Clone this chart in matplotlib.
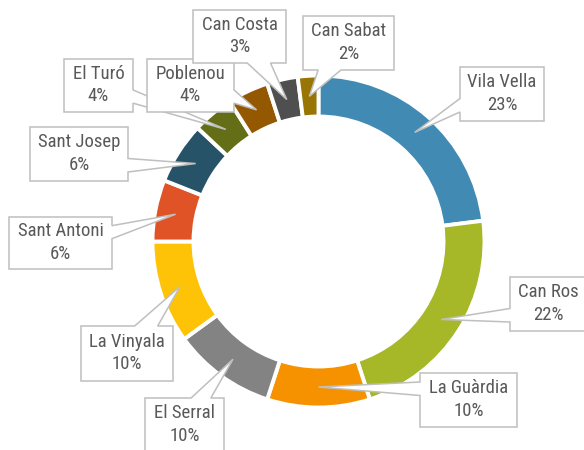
import numpy as np
import matplotlib.pyplot as plt
from matplotlib.patches import Polygon

# data
names = ['Vila Vella', 'Can Ros', 'La Guàrdia', 'El Serral', 'La Vinyala',
         'Sant Antoni', 'Sant Josep', 'El Turó', 'Poblenou', 'Can Costa', 'Can Sabat']
values = [23, 22, 10, 10, 10, 6, 6, 4, 4, 3, 2]
colors = ['#418AB3', '#A6B727', '#F69200', '#838383', '#FEC306', '#DF5327',
          '#275369', '#646E17', '#945800', '#4F4F4F', '#987504']

# label boxes, pixel coords (left, top, right, bottom)
boxes = [(460, 67, 544, 121), (510, 277, 587, 331), (420, 373, 517, 427),
         (145, 398, 224, 452), (81, 326, 173, 381), (9, 217, 112, 269),
         (30, 127, 128, 181), (64, 59, 133, 112), (147, 59, 234, 112),
         (193, 10, 286, 63), (303, 16, 394, 70)]

W, H = 584, 450
fig = plt.figure(figsize=(W / 100, H / 100), dpi=100)
ax = fig.add_axes([0, 0, 1, 1])

R = 166
ring = 41
cx, cy = 318.5, H - 241.5
wedges, _ = ax.pie(values, colors=colors, startangle=90, counterclock=False,
                   radius=R, center=(cx, cy),
                   wedgeprops=dict(width=ring, edgecolor='white', linewidth=2.8))
ax.set_xlim(0, W)
ax.set_ylim(0, H)
ax.set_aspect('equal')
ax.axis('off')


def callout(x0, y0, x1, y1, tx, ty):
    # rectangle with a wedge pointer, like excel's wedgeRectCallout (y down)
    w = x1 - x0
    h = y1 - y0
    dx = tx - (x0 + x1) / 2
    dy = ty - (y0 + y1) / 2
    if abs(dx) / w > abs(dy) / h:
        if dy > 0:
            ya, yb = y0 + h * 7 / 12, y0 + h * 10 / 12
        else:
            ya, yb = y0 + h * 2 / 12, y0 + h * 5 / 12
        if dx < 0:
            return [(x0, y0), (x1, y0), (x1, y1), (x0, y1), (x0, yb), (tx, ty), (x0, ya)]
        return [(x0, y0), (x1, y0), (x1, ya), (tx, ty), (x1, yb), (x1, y1), (x0, y1)]
    if dx > 0:
        xa, xb = x0 + w * 7 / 12, x0 + w * 10 / 12
    else:
        xa, xb = x0 + w * 2 / 12, x0 + w * 5 / 12
    if dy < 0:
        return [(x0, y0), (xa, y0), (tx, ty), (xb, y0), (x1, y0), (x1, y1), (x0, y1)]
    return [(x0, y0), (x1, y0), (x1, y1), (xb, y1), (tx, ty), (xa, y1), (x0, y1)]


rm = R - ring / 2
for wd, name, v, (x0, y0, x1, y1) in zip(wedges, names, values, boxes):
    a = np.deg2rad((wd.theta1 + wd.theta2) / 2)
    tx = cx + rm * np.cos(a)
    ty = H - (cy + rm * np.sin(a))
    pts = [(px, H - py) for px, py in callout(x0, y0, x1, y1, tx, ty)]
    ax.add_patch(Polygon(pts, closed=True, facecolor='white', edgecolor='#BFBFBF',
                         linewidth=1.1, zorder=3))
    ax.text((x0 + x1) / 2, H - (y0 + y1) / 2 + 0.5, f'{name}\n{v}%', ha='center', va='center',
            fontsize=13.5, color='#595959', linespacing=1.35, fontstretch='condensed',
            family=['Liberation Sans Narrow', 'Roboto Condensed', 'Roboto', 'DejaVu Sans'],
            zorder=4)

fig.savefig('out.png', dpi=100)
